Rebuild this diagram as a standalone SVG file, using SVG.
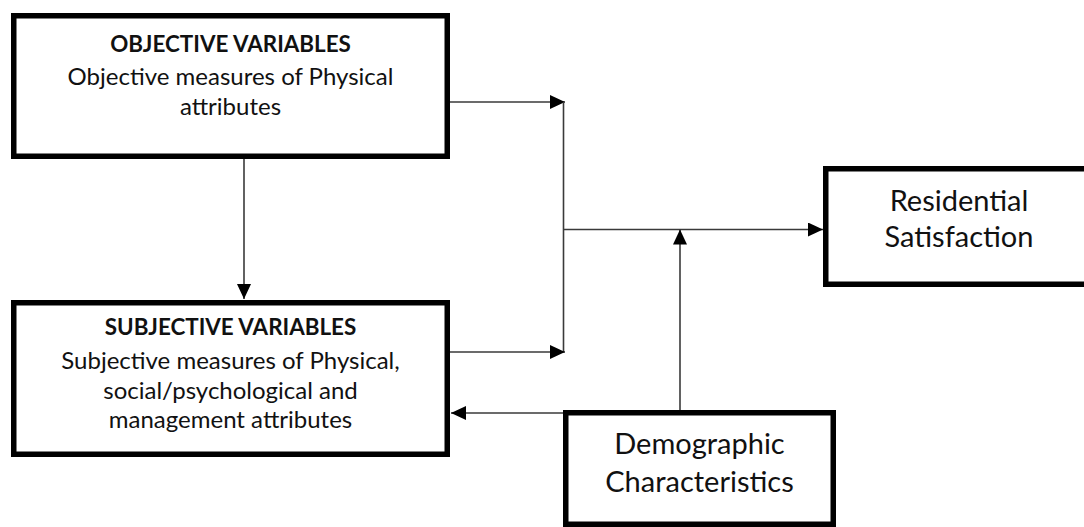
<svg xmlns="http://www.w3.org/2000/svg" width="1084" height="527" viewBox="0 0 1084 527">
  <style>
    .box { fill: #ffffff; stroke: #000000; stroke-width: 5.5; }
    .link { fill: none; stroke: #3a3a3a; stroke-width: 1.6; }
    .head { marker-end: url(#arrow); }
    text { font-family: Lato, "Open Sans", "Noto Sans", sans-serif; fill: #111111; text-anchor: middle; }
    .title { font-weight: bold; font-size: 22.4px; }
    .body { font-size: 24px; }
    .big { font-size: 29px; }
  </style>
  <defs>
    <marker id="arrow" markerUnits="userSpaceOnUse" markerWidth="16" markerHeight="14" refX="15" refY="7" orient="auto">
      <path d="M0,0 L15,7 L0,14 Z" fill="#000000"/>
    </marker>
  </defs>
  <rect width="1084" height="527" fill="#ffffff"/>

  <!-- connectors -->
  <g id="connectors">
    <line class="link head" x1="244" y1="159" x2="244" y2="299"/>
    <line class="link head" x1="450" y1="102" x2="565" y2="102"/>
    <line class="link" x1="563.5" y1="102" x2="563.5" y2="352"/>
    <line class="link head" x1="450" y1="352" x2="565" y2="352"/>
    <line class="link head" x1="563.5" y1="229.5" x2="823" y2="229.5"/>
    <line class="link head" x1="680" y1="410" x2="680" y2="229.5"/>
    <line class="link head" x1="563" y1="413" x2="451" y2="413"/>
  </g>

  <!-- objective variables -->
  <g id="objective">
    <rect class="box" x="13.75" y="15.75" width="433.5" height="140.5"/>
    <text class="title" x="230.5" y="52">OBJECTIVE VARIABLES</text>
    <text class="body" x="230.5" y="85">Objective measures of Physical</text>
    <text class="body" x="230.5" y="115">attributes</text>
  </g>

  <!-- subjective variables -->
  <g id="subjective">
    <rect class="box" x="13.75" y="302.75" width="433.5" height="151.5"/>
    <text class="title" x="230.5" y="335">SUBJECTIVE VARIABLES</text>
    <text class="body" x="230.5" y="369">Subjective measures of Physical,</text>
    <text class="body" x="230.5" y="399">social/psychological and</text>
    <text class="body" x="230.5" y="428">management attributes</text>
  </g>

  <!-- residential satisfaction -->
  <g id="residential">
    <rect class="box" x="825.75" y="168.75" width="300" height="115.5"/>
    <text class="big" x="959" y="211">Residential</text>
    <text class="big" x="959" y="247">Satisfaction</text>
  </g>

  <!-- demographic characteristics -->
  <g id="demographic">
    <rect class="box" x="565.75" y="412.75" width="267.5" height="111.5"/>
    <text class="big" x="699.5" y="454">Demographic</text>
    <text class="big" x="699.5" y="492">Characteristics</text>
  </g>
</svg>
